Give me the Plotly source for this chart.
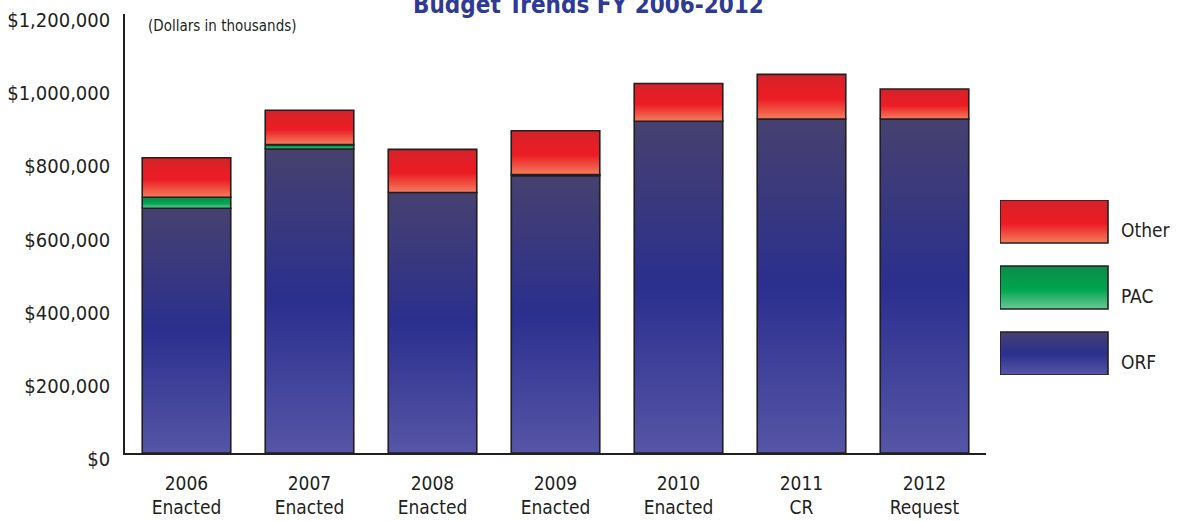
import plotly.graph_objects as go

# ---- data (thousands of dollars) ----
years = ["2006", "2007", "2008", "2009", "2010", "2011", "2012"]
stages = ["Enacted", "Enacted", "Enacted", "Enacted", "Enacted", "CR", "Request"]
orf = [669000, 831000, 712000, 758000, 907000, 913000, 913000]
pac = [30000, 12000, 0, 3000, 0, 0, 0]
other = [108000, 94000, 118000, 120000, 103000, 122000, 82000]
series_names = ["ORF", "PAC", "Other"]
y_ticks = [0, 200000, 400000, 600000, 800000, 1000000, 1200000]

FONT = "Liberation Sans Narrow, DejaVu Sans Condensed, Roboto Condensed, Arial Narrow, sans-serif"
OUTLINE = "#231f20"
BAR_W = 0.72

# gradients: position 0 = bottom, 1 = top
grad = {
    "ORF": [[0, "#5655a6"], [0.5, "#2b2f8e"], [1, "#46416f"]],
    "PAC": [[0, "#6cc795"], [0.45, "#00a651"], [1, "#0c8a47"]],
    "Other": [[0, "#f47d5d"], [0.45, "#ec1c24"], [0.75, "#e11f26"], [1, "#d2232a"]],
}

fig = go.Figure()

values = {"ORF": orf, "PAC": pac, "Other": other}
for i in range(len(years)):
    base = 0
    for name in series_names:
        v = values[name][i]
        if v <= 0:
            continue
        top = base + v
        x0, x1 = i - BAR_W / 2, i + BAR_W / 2
        fig.add_trace(go.Scatter(
            x=[x0, x1, x1, x0, x0], y=[base, base, top, top, base],
            mode="lines", fill="toself",
            line=dict(color=OUTLINE, width=1.6),
            fillgradient=dict(type="vertical", colorscale=grad[name], start=base, stop=top),
            hoverinfo="skip", showlegend=False, xaxis="x", yaxis="y",
        ))
        base = top

W, H = 1179, 521
L, R, T, B = 125, 20, 14, 68
plot_w = W - L - R
plot_h = H - T - B
main_frac = (986 - L) / plot_w

# ---- legend drawn on its own small axis ----
LEG_H, LEG_STEP = 43, 66
LEG_X0, LEG_X1, LEG_XEND = 1000, 1108, W - R
for k, name in enumerate(series_names):
    b = k * LEG_STEP
    t = b + LEG_H
    fig.add_trace(go.Scatter(
        x=[0, 1, 1, 0, 0], y=[b, b, t, t, b],
        mode="lines", fill="toself",
        line=dict(color=OUTLINE, width=1.6),
        fillgradient=dict(type="vertical", colorscale=grad[name], start=b, stop=t),
        hoverinfo="skip", showlegend=False, xaxis="x2", yaxis="y2",
    ))
    fig.add_annotation(x=(1119 - LEG_X0) / (LEG_X1 - LEG_X0), y=b + LEG_H / 2 - 8,
                       xref="x2", yref="y2",
                       text=name, showarrow=False, xanchor="left", yanchor="middle",
                       font=dict(family=FONT, size=19, color="#231f20"))

fig.update_layout(
    width=W, height=H,
    margin=dict(l=L, r=R, t=T, b=B, autoexpand=False),
    paper_bgcolor="white", plot_bgcolor="white",
    font=dict(family=FONT, color="#231f20"),
    xaxis=dict(
        domain=[0, main_frac], range=[-0.5, 6.5], automargin=False,
        tickvals=list(range(len(years))),
        ticktext=[f"{y}<br>{s}" for y, s in zip(years, stages)],
        showgrid=False, zeroline=False, showline=True, linecolor="#231f20", linewidth=1.6,
        ticks="", ticklabelstandoff=12,
        tickfont=dict(family=FONT, size=19, color="#231f20"),
        fixedrange=True,
    ),
    yaxis=dict(
        range=[0, 1200000], tickvals=y_ticks, automargin=False,
        ticktext=["$0" if v == 0 else f"${v:,}" for v in y_ticks],
        showgrid=False, zeroline=False, showline=True, linecolor="#231f20", linewidth=1.6,
        ticks="", ticklabelstandoff=9, ticklabelshift=6, ticklabeloverflow="allow",
        tickfont=dict(family=FONT, size=20, color="#231f20"),
        fixedrange=True,
    ),
    xaxis2=dict(domain=[(LEG_X0 - L) / plot_w, (LEG_XEND - L) / plot_w],
                range=[0, (LEG_XEND - LEG_X0) / (LEG_X1 - LEG_X0)],
                visible=False, fixedrange=True, anchor="y2"),
    yaxis2=dict(domain=[(453 - 375) / plot_h, (453 - 200) / plot_h],
                range=[0, 2 * LEG_STEP + LEG_H],
                visible=False, fixedrange=True, anchor="x2"),
    showlegend=False,
)

fig.add_annotation(x=(588 - L) / plot_w, y=(453 - 21) / plot_h, xref="paper", yref="paper",
                   text="<b>Budget Trends FY 2006-2012</b>", showarrow=False,
                   xanchor="center", yanchor="bottom",
                   font=dict(family=FONT, size=24, color="#2e3a94"))
fig.add_annotation(x=(146 - L) / plot_w, y=(453 - 26) / plot_h, xref="paper", yref="paper",
                   text="(Dollars in thousands)", showarrow=False,
                   xanchor="left", yanchor="middle",
                   font=dict(family=FONT, size=15, color="#231f20"))

fig.write_html("out.html")
